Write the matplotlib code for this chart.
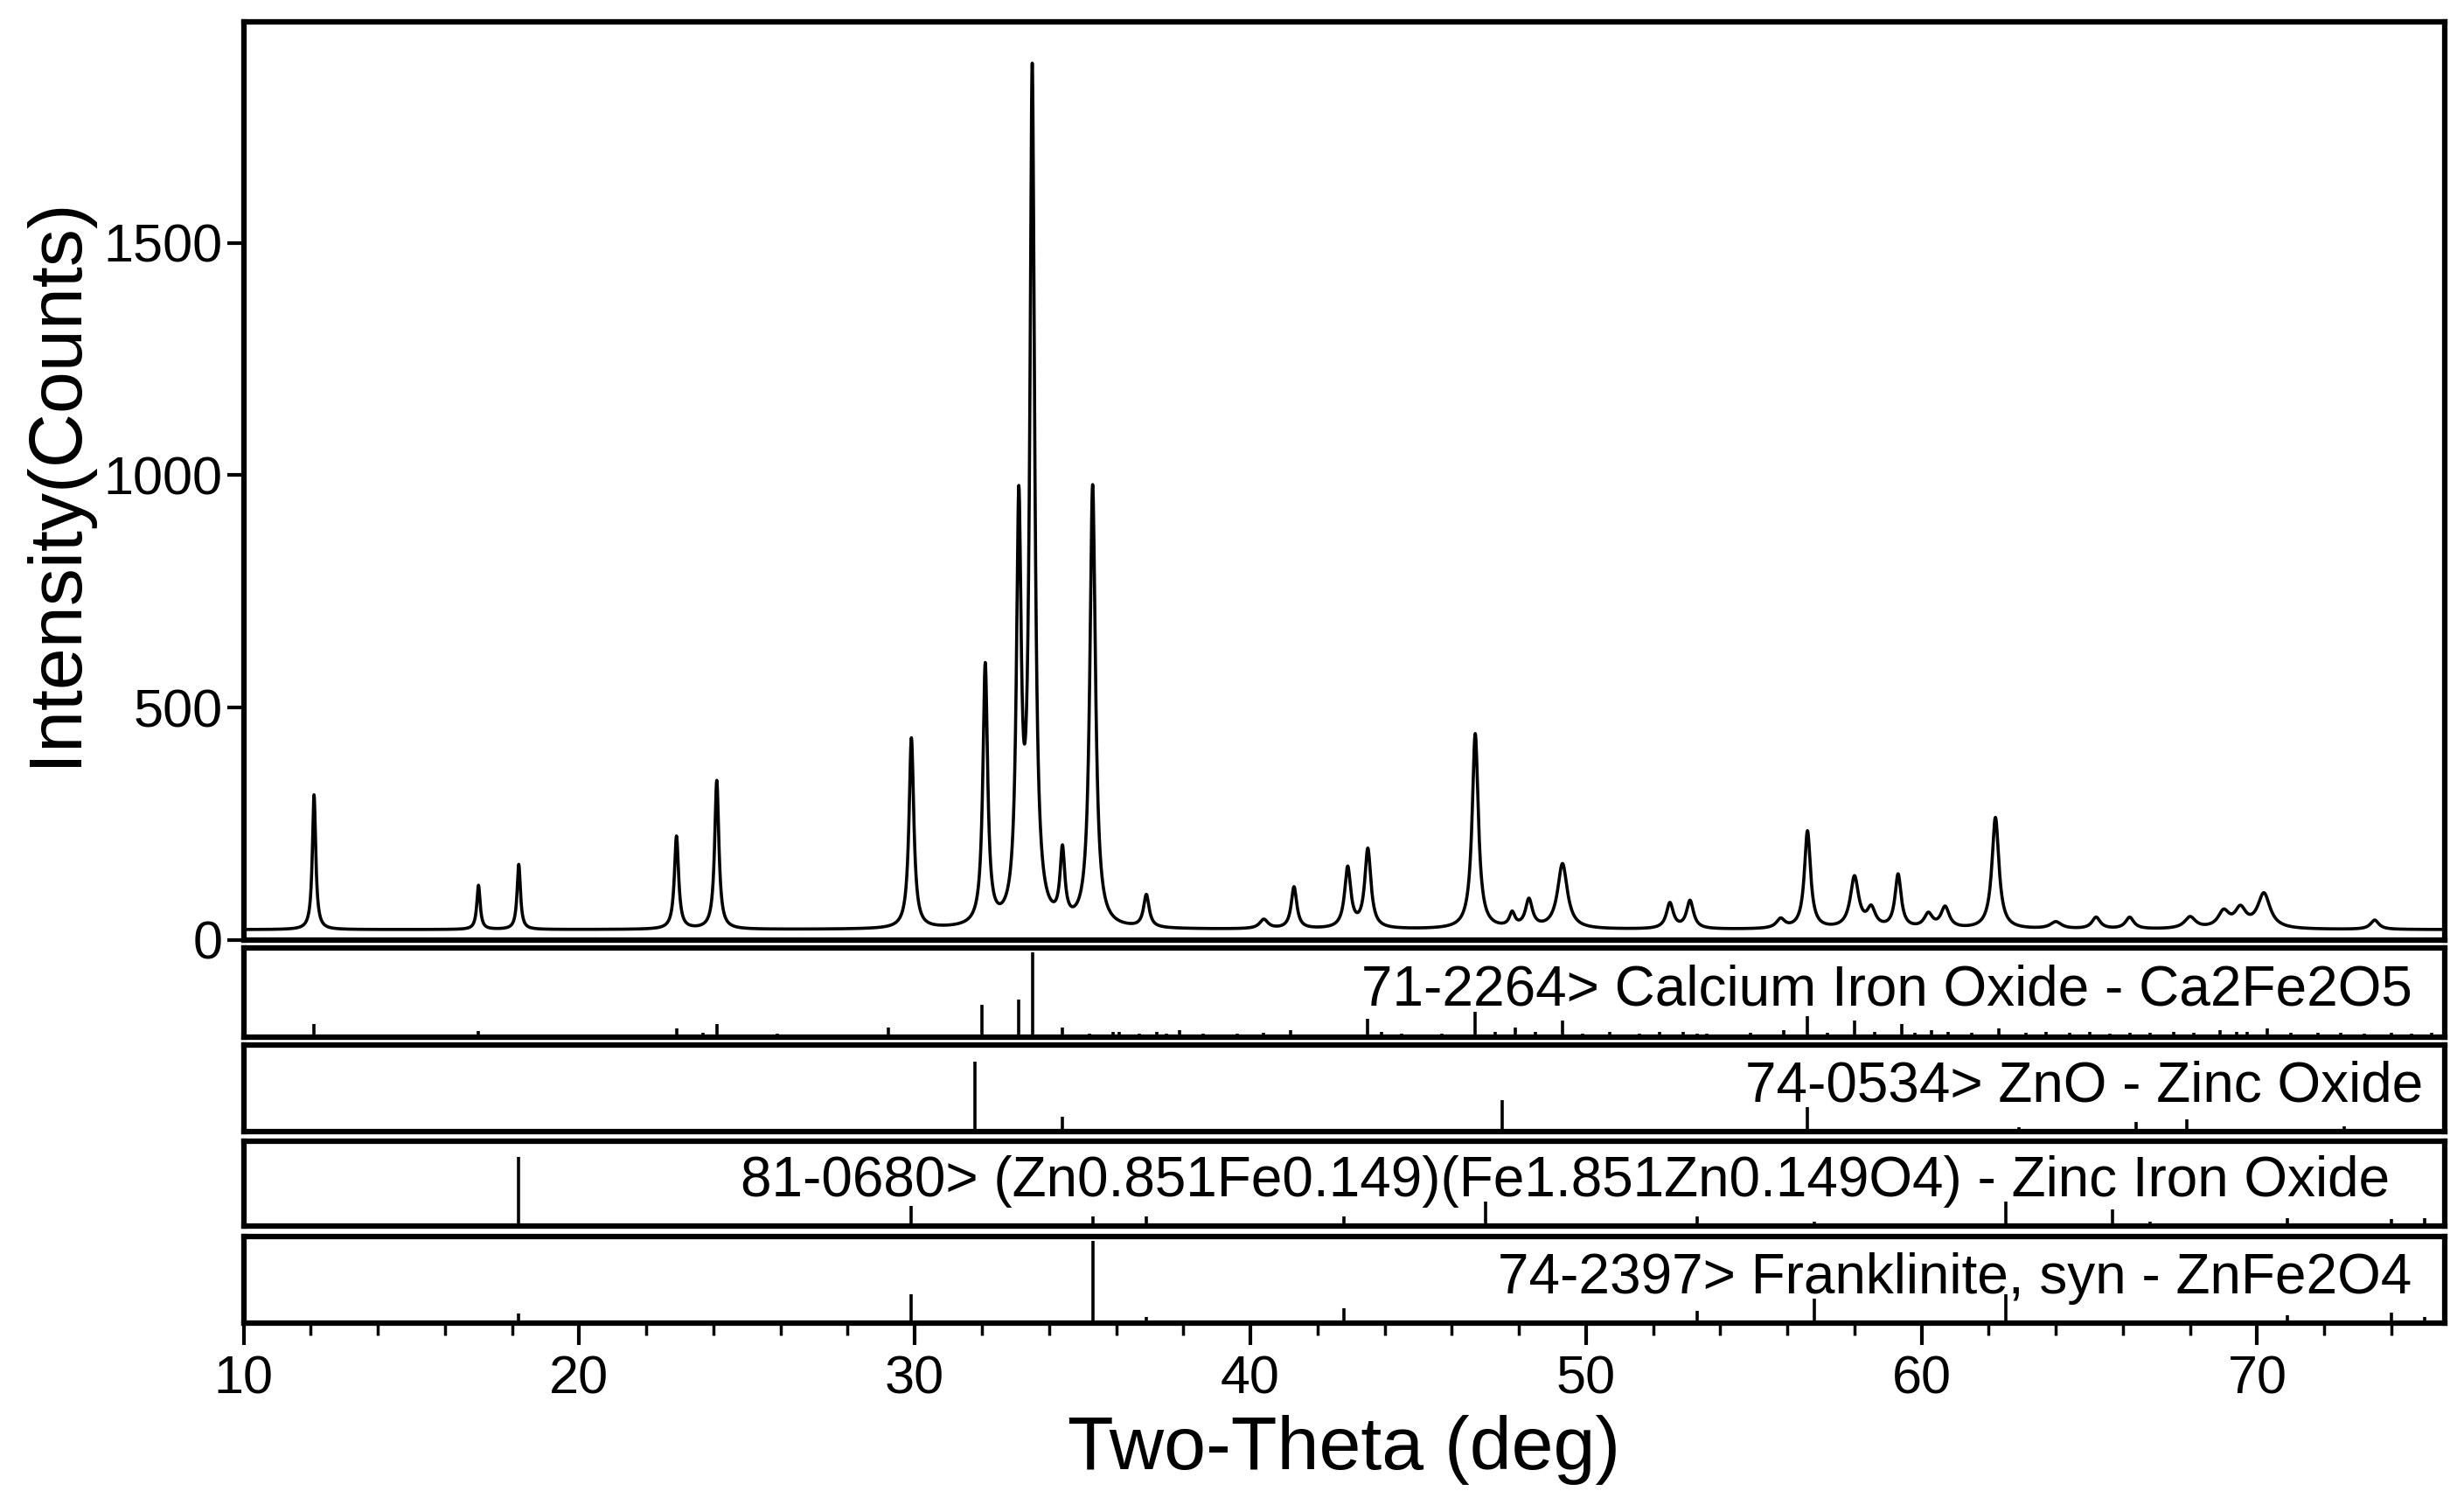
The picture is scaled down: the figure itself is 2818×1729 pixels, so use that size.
import numpy as np
import matplotlib
matplotlib.use("Agg")
import matplotlib.pyplot as plt
from matplotlib.ticker import MultipleLocator

plt.rcParams['font.family'] = ['Liberation Sans', 'DejaVu Sans']

# Observed peaks: position (2θ), height (counts above background), FWHM (deg)
peak_pos = [12.1, 17.0, 18.2, 22.9, 24.1, 29.9, 32.1, 33.1, 33.5, 34.4, 35.3, 36.9,
            40.4, 41.3, 42.9, 43.5, 46.7, 47.8, 48.3, 49.3, 52.5, 53.1, 55.8, 56.6, 58.0, 58.5,
            59.3, 60.2, 60.7, 62.2, 64.0, 65.2, 66.2, 68.0, 69.0, 69.5, 70.2, 73.5]
peak_h = [290, 95, 140, 200, 320, 410, 560, 870, 1820, 150, 950, 70,
          20, 90, 130, 170, 420, 30, 60, 140, 55, 60, 20, 210, 110, 40,
          115, 30, 45, 240, 15, 25, 25, 25, 35, 40, 75, 20]
peak_w = [0.12, 0.12, 0.12, 0.15, 0.15, 0.17, 0.17, 0.17, 0.17, 0.17, 0.2, 0.2,
          0.3, 0.2, 0.22, 0.22, 0.22, 0.2, 0.25, 0.35, 0.25, 0.25, 0.3, 0.22, 0.3, 0.3,
          0.22, 0.3, 0.3, 0.25, 0.4, 0.3, 0.3, 0.4, 0.4, 0.4, 0.45, 0.3]
background = 22

# Reference stick patterns (position, relative intensity)
ca_pos = [12.1, 17.0, 22.9, 23.7, 24.1, 25.9, 29.2, 32.0, 33.1, 33.5, 34.4, 35.2, 35.9, 36.1, 36.7,
          37.2, 37.5, 37.9, 38.6, 39.6, 40.4, 41.2, 41.9, 43.5, 43.9, 44.5, 45.7, 46.7, 47.3,
          47.9, 48.5, 49.3, 49.9, 50.7, 51.6, 52.2, 52.9, 53.3, 53.6, 54.9, 55.9, 56.6, 57.2,
          58.0, 58.6, 59.4, 59.8, 60.3, 60.8, 61.5, 62.3, 63.1, 63.7, 64.4, 65.0, 65.6, 66.2,
          66.8, 67.5, 68.1, 68.9, 69.4, 69.7, 70.3, 71.0, 71.8, 72.5, 73.2, 74.0, 74.6, 75.2]
ca_int = [0.16, 0.07, 0.1, 0.05, 0.16, 0.04, 0.12, 0.38, 0.44, 1.0, 0.12, 0.04, 0.06, 0.06, 0.04,
          0.06, 0.04, 0.08, 0.04, 0.04, 0.05, 0.08, 0.03, 0.22, 0.06, 0.04, 0.04, 0.3, 0.06,
          0.12, 0.06, 0.2, 0.04, 0.06, 0.04, 0.06, 0.06, 0.04, 0.04, 0.05, 0.08, 0.25, 0.05,
          0.2, 0.06, 0.16, 0.05, 0.08, 0.06, 0.05, 0.1, 0.05, 0.06, 0.05, 0.06, 0.04, 0.05,
          0.05, 0.06, 0.05, 0.08, 0.06, 0.06, 0.1, 0.05, 0.05, 0.05, 0.04, 0.05, 0.04, 0.05]
zno_pos = [31.8, 34.4, 47.5, 56.6, 62.9, 66.4, 67.9, 69.1, 72.6]
zno_int = [0.85, 0.18, 0.38, 0.3, 0.05, 0.12, 0.15, 0.02, 0.06]
zio_pos = [18.2, 29.9, 35.3, 36.9, 42.8, 47.0, 53.3, 56.8, 62.5, 65.7, 66.8, 70.9, 74.0, 75.0]
zio_int = [0.85, 0.25, 0.12, 0.12, 0.12, 0.3, 0.12, 0.05, 0.3, 0.2, 0.05, 0.1, 0.08, 0.1]
fr_pos = [18.2, 29.9, 35.3, 36.9, 42.8, 53.3, 56.8, 62.5, 70.9, 74.0, 75.0]
fr_int = [0.12, 0.35, 1.0, 0.08, 0.18, 0.15, 0.3, 0.35, 0.1, 0.13, 0.08]

sticks = [(ca_pos, ca_int, "71-2264> Calcium Iron Oxide - Ca2Fe2O5", 0.985),
          (zno_pos, zno_int, "74-0534> ZnO - Zinc Oxide", 0.99),
          (zio_pos, zio_int, "81-0680> (Zn0.851Fe0.149)(Fe1.851Zn0.149O4) - Zinc Iron Oxide", 0.975),
          (fr_pos, fr_int, "74-2397> Franklinite, syn - ZnFe2O4", 0.985)]

x = np.arange(10.0, 75.6, 0.01)
y = np.full_like(x, background, dtype=float)
for p, h, w in zip(peak_pos, peak_h, peak_w):
    g = (w / 2) ** 2
    y += h * g / ((x - p) ** 2 + g)

W, H = 2818, 1729
fig = plt.figure(figsize=(W / 100, H / 100), dpi=100)
L, R = 155 / 1568, 1556 / 1568
def ax_at(top, bot):
    return fig.add_axes([L, 1 - bot / 962, R - L, (bot - top) / 962])

lw = 4.5
ax = ax_at(14, 598)
ax.plot(x, y, color='black', lw=2.6)
ax.set_xlim(10, 75.6)
ax.set_ylim(0, 1975)
ax.set_yticks([0, 500, 1000, 1500])
ax.tick_params(axis='y', labelsize=44, length=14, width=3)
ax.tick_params(axis='x', labelbottom=False, length=0)
ax.set_ylabel("Intensity(Counts)", fontsize=62, labelpad=10)
for s in ax.spines.values():
    s.set_linewidth(lw)

panels = [(603, 660), (665, 720), (726, 780), (787, 842)]
for i, ((t, b), (pos, inten, label, xr)) in enumerate(zip(panels, sticks)):
    a = ax_at(t, b)
    a.vlines(pos, 0, inten, color='black', lw=2.6)
    a.set_xlim(10, 75.6)
    a.set_ylim(0, 1.05)
    a.set_yticks([])
    for s in a.spines.values():
        s.set_linewidth(lw)
    a.text(xr, 0.52, label, transform=a.transAxes, ha='right', va='center', fontsize=46)
    a.xaxis.set_major_locator(MultipleLocator(10))
    a.xaxis.set_minor_locator(MultipleLocator(2))
    if i < 3:
        a.tick_params(axis='x', which='both', labelbottom=False, length=0)
    else:
        a.tick_params(axis='x', which='major', labelsize=44, length=18, width=3, direction='out', pad=8)
        a.tick_params(axis='x', which='minor', length=10, width=2.5, direction='out')
        a.set_xlabel("Two-Theta (deg)", fontsize=62, labelpad=8)

fig.savefig("out.png", dpi=100)
